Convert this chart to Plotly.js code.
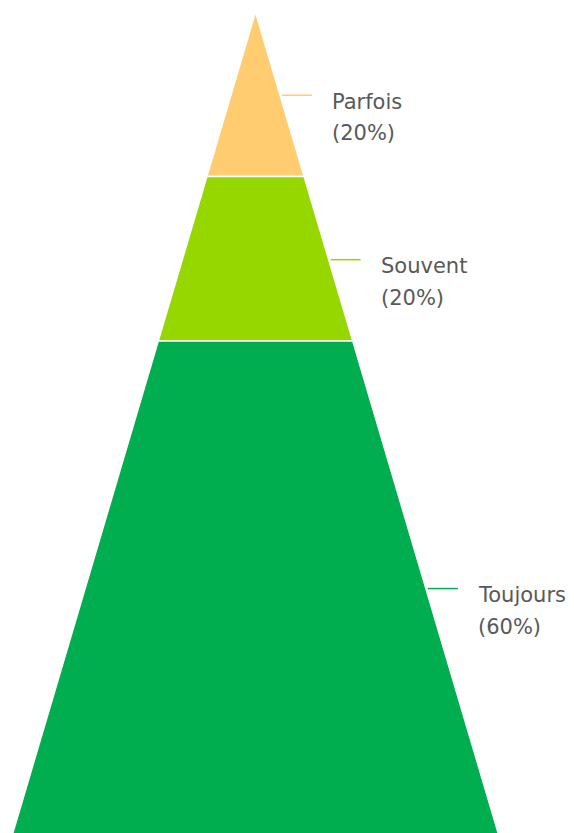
<!DOCTYPE html>
<html>
<head>
<meta charset="utf-8">
<script src="https://cdn.plot.ly/plotly-3.0.1.min.js"></script>
<style>html,body{margin:0;padding:0;background:#fff;}#chart{width:574px;height:833px;}</style>
</head>
<body>
<div id="chart"></div>
<script>
// Data (top of pyramid to bottom)
const categories = ["Parfois", "Souvent", "Toujours"];
const values = [20, 20, 60];
const percentLabels = ["(20%)", "(20%)", "(60%)"];
const colors = ["#FFCC70", "#97D700", "#00AE4F"];

// Geometry (pixels -> data units)
const PX_X = 243;        // pixels per unit half-width at base
const PX_Y = 8.21;       // pixels per percentage point
const xr = [-255.5 / PX_X, 318.5 / PX_X];
const yr = [99.85, -12 / PX_Y];

const total = values.reduce((a, b) => a + b, 0);
const traces = [];
const annotations = [];
const labelFont = { family: "'DejaVu Sans', sans-serif", size: 21, color: "#595959" };
let cum = 0;
categories.forEach((cat, i) => {
  const v0 = cum / total * 100;
  cum += values[i];
  const v1 = cum / total * 100;
  const w0 = v0 / 100, w1 = v1 / 100;
  traces.push({
    type: "scatter", mode: "lines",
    x: [-w0, w0, w1, -w1, -w0],
    y: [v0, v0, v1, v1, v0],
    fill: "toself", fillcolor: colors[i],
    line: { color: "#ffffff", width: 1.5 },
    hoverinfo: "skip", showlegend: false
  });
  const vm = (v0 + v1) / 2 + 1 / PX_Y;
  const edge = vm / 100;
  traces.push({
    type: "scatter", mode: "lines",
    x: [edge + 2 / PX_X, edge + 32 / PX_X],
    y: [vm, vm],
    line: { color: colors[i], width: 1.5 },
    hoverinfo: "skip", showlegend: false
  });
  const tx = edge + 50 / PX_X;
  annotations.push({
    x: tx, y: vm + 6.5 / PX_Y, xref: "x", yref: "y",
    text: cat, showarrow: false, xanchor: "left", yanchor: "middle",
    font: labelFont
  });
  annotations.push({
    x: tx, y: vm + 38 / PX_Y, xref: "x", yref: "y",
    text: percentLabels[i], showarrow: false, xanchor: "left", yanchor: "middle",
    font: labelFont
  });
});

const layout = {
  width: 574, height: 833,
  margin: { l: 0, r: 0, t: 0, b: 0, pad: 0 },
  paper_bgcolor: "#ffffff", plot_bgcolor: "#ffffff",
  xaxis: { range: xr, visible: false, fixedrange: true },
  yaxis: { range: yr, visible: false, fixedrange: true },
  annotations: annotations,
  showlegend: false
};
Plotly.newPlot("chart", traces, layout, { displayModeBar: false, staticPlot: true });
</script>
</body>
</html>
